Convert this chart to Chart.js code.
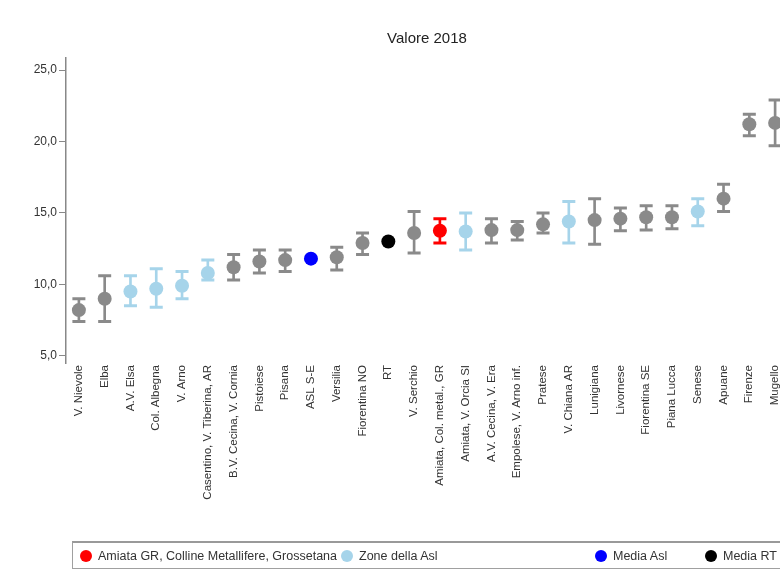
<!DOCTYPE html>
<html>
<head>
<meta charset="utf-8">
<script src="https://cdn.jsdelivr.net/npm/chart.js@4.4.0/dist/chart.umd.min.js"></script>
<style>
  html, body { margin: 0; padding: 0; background: #fff; overflow: hidden; }
  #wrap { position: relative; width: 800px; height: 575px; }
  #legend {
    position: absolute; left: 72px; top: 541px; width: 760px; height: 25px;
    border: 1.5px solid #a0a0a0; border-top: 2px solid #999;
    font: 12.5px 'Liberation Sans', Arial, sans-serif; color: #333;
  }
  #legend .item { position: absolute; top: 0; height: 25px; display: flex; align-items: center; white-space: nowrap; }
  #legend .dot { width: 12px; height: 12px; border-radius: 50%; margin-right: 6px; }
  #legend .item:nth-child(1) { left: 7px; }
  #legend .item:nth-child(2) { left: 268px; }
  #legend .item:nth-child(3) { left: 522px; }
  #legend .item:nth-child(4) { left: 632px; }
</style>
</head>
<body>
<div id="wrap">
  <canvas id="chart" width="800" height="575"></canvas>
  <div id="legend"></div>
</div>
<script>
// zone sanitarie, ordinate per valore
const zones = [
  'V. Nievole', 'Elba', 'A.V. Elsa', 'Col. Albegna', 'V. Arno',
  'Casentino, V. Tiberina, AR', 'B.V. Cecina, V. Cornia', 'Pistoiese', 'Pisana', 'ASL S-E',
  'Versilia', 'Fiorentina NO', 'RT', 'V. Serchio', 'Amiata, Col. metal., GR',
  'Amiata, V. Orcia SI', 'A.V. Cecina, V. Era', 'Empolese, V. Arno inf.', 'Pratese', 'V. Chiana AR',
  'Lunigiana', 'Livornese', 'Fiorentina SE', 'Piana Lucca', 'Senese',
  'Apuane', 'Firenze', 'Mugello'
];
const values = [
  8.2, 9.0, 9.5, 9.7, 9.9,
  10.8, 11.2, 11.6, 11.7, 11.8,
  11.9, 12.9, 13.0, 13.6, 13.75,
  13.7, 13.8, 13.8, 14.2, 14.4,
  14.5, 14.6, 14.7, 14.7, 15.1,
  16.0, 21.2, 21.3
];
const lower = [
  7.4, 7.4, 8.5, 8.4, 9.0,
  10.3, 10.3, 10.8, 10.9, null,
  11.0, 12.1, null, 12.2, 12.9,
  12.4, 12.9, 13.1, 13.6, 12.9,
  12.8, 13.75, 13.8, 13.9, 14.1,
  15.1, 20.4, 19.7
];
const upper = [
  9.0, 10.6, 10.6, 11.1, 10.9,
  11.7, 12.1, 12.4, 12.4, null,
  12.6, 13.6, null, 15.1, 14.6,
  15.0, 14.6, 14.4, 15.0, 15.8,
  16.0, 15.35, 15.5, 15.5, 16.0,
  17.0, 21.9, 22.9
];
// g = altre zone, z = zone della Asl, sel = zona selezionata, asl = media Asl, rt = media RT
const groups = [
  'g', 'g', 'z', 'z', 'z',
  'z', 'g', 'g', 'g', 'asl',
  'g', 'g', 'rt', 'g', 'sel',
  'z', 'g', 'g', 'g', 'z',
  'g', 'g', 'g', 'g', 'z',
  'g', 'g', 'g'
];
const yTicks = [5, 10, 15, 20, 25];

const groupColors = { g: '#8a8a8a', z: '#a6d4ea', sel: '#ff0000', asl: '#0000ff', rt: '#000000' };
const colors = groups.map(g => groupColors[g]);

const legendItems = [
  { text: 'Amiata GR, Colline Metallifere, Grossetana', color: groupColors.sel },
  { text: 'Zone della Asl', color: groupColors.z },
  { text: 'Media Asl', color: groupColors.asl },
  { text: 'Media RT', color: groupColors.rt }
];

const whiskers = lower.map((lo, i) => (lo === null ? null : [lo, upper[i]]));

const font = 'Liberation Sans, Arial, sans-serif';

// legenda html sotto il grafico
const legend = document.getElementById('legend');
legendItems.forEach(it => {
  const item = document.createElement('div');
  item.className = 'item';
  item.innerHTML = `<span class="dot" style="background:${it.color}"></span><span>${it.text}</span>`;
  legend.appendChild(item);
});

const ctx = document.getElementById('chart').getContext('2d');
const chart = new Chart(ctx, {
  data: {
    labels: zones,
    datasets: [
      {
        type: 'bar',
        data: whiskers,
        backgroundColor: colors,
        barThickness: 2,
        order: 3
      },
      {
        type: 'line',
        data: lower,
        showLine: false,
        pointStyle: 'line',
        pointRadius: 6.5,
        pointBorderWidth: 3,
        pointBorderColor: colors,
        order: 2
      },
      {
        type: 'line',
        data: upper,
        showLine: false,
        pointStyle: 'line',
        pointRadius: 6.5,
        pointBorderWidth: 3,
        pointBorderColor: colors,
        order: 2
      },
      {
        type: 'line',
        data: values,
        showLine: false,
        pointStyle: 'circle',
        pointRadius: 7,
        pointBorderWidth: 0,
        pointBackgroundColor: colors,
        pointBorderColor: colors,
        order: 1
      }
    ]
  },
  options: {
    responsive: false,
    animation: false,
    layout: { padding: { left: 20, right: 12, top: 0, bottom: 36 } },
    plugins: {
      tooltip: { enabled: false },
      legend: { display: false },
      title: {
        display: true,
        text: 'Valore 2018',
        fullSize: false,
        color: '#222',
        font: { family: font, size: 15, weight: 'normal' },
        padding: { top: 30, bottom: 10 }
      }
    },
    scales: {
      x: {
        offset: true,
        grid: { display: false },
        border: { display: false },
        afterFit: s => { s.height = 176; },
        ticks: {
          autoSkip: false,
          minRotation: 90,
          maxRotation: 90,
          color: '#333',
          padding: -6,
          font: { family: font, size: 11.5 }
        }
      },
      y: {
        min: 4.5,
        max: 25.84,
        afterBuildTicks: s => { s.ticks = yTicks.map(v => ({ value: v })); },
        afterFit: s => { s.width = 46; },
        grid: { drawOnChartArea: false, drawTicks: true, tickLength: 7, color: '#888' },
        border: { display: true, color: '#888', width: 1.5 },
        ticks: {
          color: '#333',
          padding: 2,
          font: { family: font, size: 12 },
          callback: v => v.toFixed(1).replace('.', ',')
        }
      }
    }
  }
});
</script>
</body>
</html>
